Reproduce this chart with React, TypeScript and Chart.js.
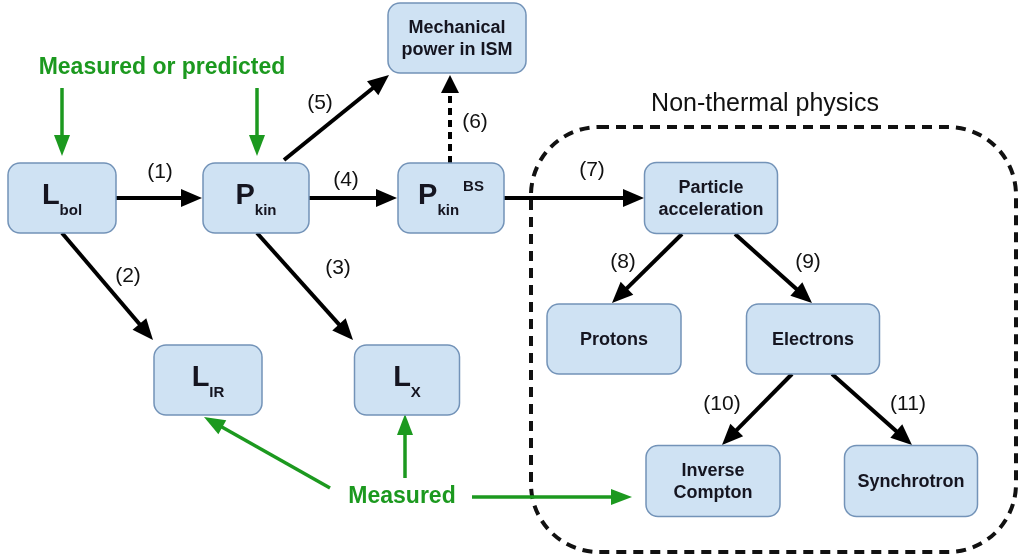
import { useEffect, useRef } from 'react';
import { Chart, registerables } from 'chart.js';

Chart.register(...registerables);

// ---- Nodes (diagram units = pixels of a 1021 x 560 plane) ----
const nodeSymbol = ['L', 'P', 'P', '', '', '', '', 'L', 'L', '', ''];
const nodeSub = ['bol', 'kin', 'kin', '', '', '', '', 'IR', 'X', '', ''];
const nodeSup = ['', '', 'BS', '', '', '', '', '', '', '', ''];
const nodeText = ['', '', '', 'Mechanical\npower in ISM', 'Particle\nacceleration', 'Protons', 'Electrons', '', '', 'Inverse\nCompton', 'Synchrotron'];
const nodeX = [62, 256, 451, 457, 711, 614, 813, 208, 407, 713, 911];
const nodeY = [198, 198, 198, 38, 198, 339, 339, 380, 380, 481, 481];
const nodeW = [108, 106, 106, 138, 133, 134, 133, 108, 105, 134, 133];
const nodeH = [70, 70, 70, 70, 71, 70, 70, 70, 70, 71, 71];

// ---- Black process arrows ----
const edgeLabel = ['(1)', '(2)', '(3)', '(4)', '(5)', '(6)', '(7)', '(8)', '(9)', '(10)', '(11)'];
const edgeX1 = [116, 62, 257, 309, 284, 450, 504, 682, 735, 792, 832];
const edgeY1 = [198, 233, 233, 198, 160, 163, 198, 234, 234, 374, 374];
const edgeX2 = [202, 153, 353, 397, 389, 450, 644, 612, 812, 722, 912];
const edgeY2 = [198, 340, 340, 198, 75, 75, 198, 303, 303, 445, 445];
const edgeDashed = [false, false, false, false, false, true, false, false, false, false, false];
const labelX = [160, 128, 338, 346, 320, 475, 592, 623, 808, 722, 908];
const labelY = [172, 276, 268, 180, 103, 122, 170, 262, 262, 404, 404];

// ---- Green "measured" arrows ----
const greenX1 = [62, 257, 330, 405, 472];
const greenY1 = [88, 88, 488, 478, 497];
const greenX2 = [62, 257, 204, 405, 632];
const greenY2 = [156, 156, 417, 414, 497];
const greenText = ['Measured or predicted', 'Measured'];
const greenTextX = [162, 402];
const greenTextY = [68, 497];

// ---- Non-thermal region ----
const regionTitle = 'Non-thermal physics';
const regionX = [531, 1016];
const regionY = [127, 552];

const FONT = '"Liberation Sans", Arial, sans-serif';
const GREEN = '#1c991f';

function drawArrow(ctx: CanvasRenderingContext2D, x1: number, y1: number, x2: number, y2: number,
  color: string, lw: number, hl: number, hw: number, dash: number[]) {
  const a = Math.atan2(y2 - y1, x2 - x1);
  const bx = x2 - Math.cos(a) * hl;
  const by = y2 - Math.sin(a) * hl;
  ctx.save();
  ctx.strokeStyle = color;
  ctx.fillStyle = color;
  ctx.lineWidth = lw;
  ctx.setLineDash(dash);
  ctx.beginPath();
  ctx.moveTo(x1, y1);
  ctx.lineTo(bx + Math.cos(a) * 2, by + Math.sin(a) * 2);
  ctx.stroke();
  ctx.setLineDash([]);
  const px = -Math.sin(a) * hw / 2;
  const py = Math.cos(a) * hw / 2;
  ctx.beginPath();
  ctx.moveTo(x2, y2);
  ctx.lineTo(bx + px, by + py);
  ctx.lineTo(bx - px, by - py);
  ctx.closePath();
  ctx.fill();
  ctx.restore();
}

function roundRect(ctx: CanvasRenderingContext2D, x: number, y: number, w: number, h: number, r: number) {
  ctx.beginPath();
  ctx.moveTo(x + r, y);
  ctx.lineTo(x + w - r, y);
  ctx.arcTo(x + w, y, x + w, y + r, r);
  ctx.lineTo(x + w, y + h - r);
  ctx.arcTo(x + w, y + h, x + w - r, y + h, r);
  ctx.lineTo(x + r, y + h);
  ctx.arcTo(x, y + h, x, y + h - r, r);
  ctx.lineTo(x, y + r);
  ctx.arcTo(x, y, x + r, y, r);
  ctx.closePath();
}

const diagramPlugin = {
  id: 'diagram',
  afterDatasetsDraw(chart: any) {
    const ctx: CanvasRenderingContext2D = chart.ctx;
    const sx = chart.scales.x;
    const sy = chart.scales.y;
    const X = (v: number) => sx.getPixelForValue(v);
    const Y = (v: number) => sy.getPixelForValue(v);

    ctx.save();
    // region
    ctx.strokeStyle = '#111';
    ctx.lineWidth = 4;
    ctx.setLineDash([10, 7]);
    roundRect(ctx, X(regionX[0]), Y(regionY[0]), X(regionX[1]) - X(regionX[0]), Y(regionY[1]) - Y(regionY[0]), 68);
    ctx.stroke();
    ctx.setLineDash([]);
    ctx.fillStyle = '#111';
    ctx.font = `25px ${FONT}`;
    ctx.textAlign = 'center';
    ctx.textBaseline = 'middle';
    ctx.fillText(regionTitle, X(765), Y(104));

    // black arrows
    for (let i = 0; i < edgeLabel.length; i++) {
      drawArrow(ctx, X(edgeX1[i]), Y(edgeY1[i]), X(edgeX2[i]), Y(edgeY2[i]), '#000', 4,
        edgeDashed[i] ? 18 : 21, 18, edgeDashed[i] ? [7, 5] : []);
      ctx.fillStyle = '#111';
      ctx.font = `21px ${FONT}`;
      ctx.textAlign = 'center';
      ctx.textBaseline = 'middle';
      ctx.fillText(edgeLabel[i], X(labelX[i]), Y(labelY[i]));
    }

    // green arrows
    for (let i = 0; i < greenX1.length; i++) {
      drawArrow(ctx, X(greenX1[i]), Y(greenY1[i]), X(greenX2[i]), Y(greenY2[i]), GREEN, 3.5, 21, 16, []);
    }
    ctx.fillStyle = GREEN;
    ctx.font = `bold 23px ${FONT}`;
    ctx.textAlign = 'center';
    ctx.textBaseline = 'middle';
    for (let i = 0; i < greenText.length; i++) {
      ctx.fillText(greenText[i], X(greenTextX[i]), Y(greenTextY[i]));
    }

    // boxes
    for (let i = 0; i < nodeX.length; i++) {
      const cx = X(nodeX[i]);
      const cy = Y(nodeY[i]);
      const w = nodeW[i];
      const h = nodeH[i];
      roundRect(ctx, cx - w / 2, cy - h / 2, w, h, 12);
      ctx.fillStyle = '#cfe2f3';
      ctx.fill();
      ctx.strokeStyle = '#7393b8';
      ctx.lineWidth = 1.5;
      ctx.stroke();
      ctx.fillStyle = '#151520';
      if (nodeSymbol[i]) {
        ctx.textAlign = 'left';
        ctx.textBaseline = 'alphabetic';
        ctx.font = `bold 29px ${FONT}`;
        const wMain = ctx.measureText(nodeSymbol[i]).width;
        ctx.font = `bold 15px ${FONT}`;
        const wSub = ctx.measureText(nodeSub[i]).width;
        const wSup = nodeSup[i] ? ctx.measureText(nodeSup[i]).width + 4 : 0;
        const total = wMain + wSub + wSup;
        let x = cx - total / 2;
        ctx.font = `bold 29px ${FONT}`;
        ctx.fillText(nodeSymbol[i], x, cy + 6);
        x += wMain;
        ctx.font = `bold 15px ${FONT}`;
        ctx.fillText(nodeSub[i], x, cy + 17);
        x += wSub + 4;
        if (nodeSup[i]) ctx.fillText(nodeSup[i], x, cy - 7);
      } else {
        ctx.textAlign = 'center';
        ctx.textBaseline = 'middle';
        ctx.font = `bold 18px ${FONT}`;
        const lines = nodeText[i].split('\n');
        const lh = 22;
        lines.forEach((ln, k) => {
          ctx.fillText(ln, cx, cy + 1 + (k - (lines.length - 1) / 2) * lh);
        });
      }
    }
    ctx.restore();
  },
};

export default function App() {
  const ref = useRef<HTMLCanvasElement>(null);
  useEffect(() => {
    document.body.style.margin = '0';
    const chart = new Chart(ref.current as HTMLCanvasElement, {
      type: 'scatter',
      data: {
        datasets: [{
          data: nodeX.map((x, i) => ({ x, y: nodeY[i] })),
          pointRadius: 0,
          showLine: false,
        }],
      },
      options: {
        animation: false,
        responsive: false,
        layout: { padding: 0 },
        scales: {
          x: { type: 'linear', min: 0, max: 1021, display: false },
          y: { type: 'linear', min: 0, max: 560, reverse: true, display: false },
        },
        plugins: { legend: { display: false }, tooltip: { enabled: false } },
        events: [],
      },
      plugins: [diagramPlugin],
    });
    return () => chart.destroy();
  }, []);
  return (
    <div style={{ position: 'absolute', left: 0, top: 0, width: 1021, height: 560, background: '#fff' }}>
      <canvas ref={ref} width={1021} height={560} />
    </div>
  );
}
